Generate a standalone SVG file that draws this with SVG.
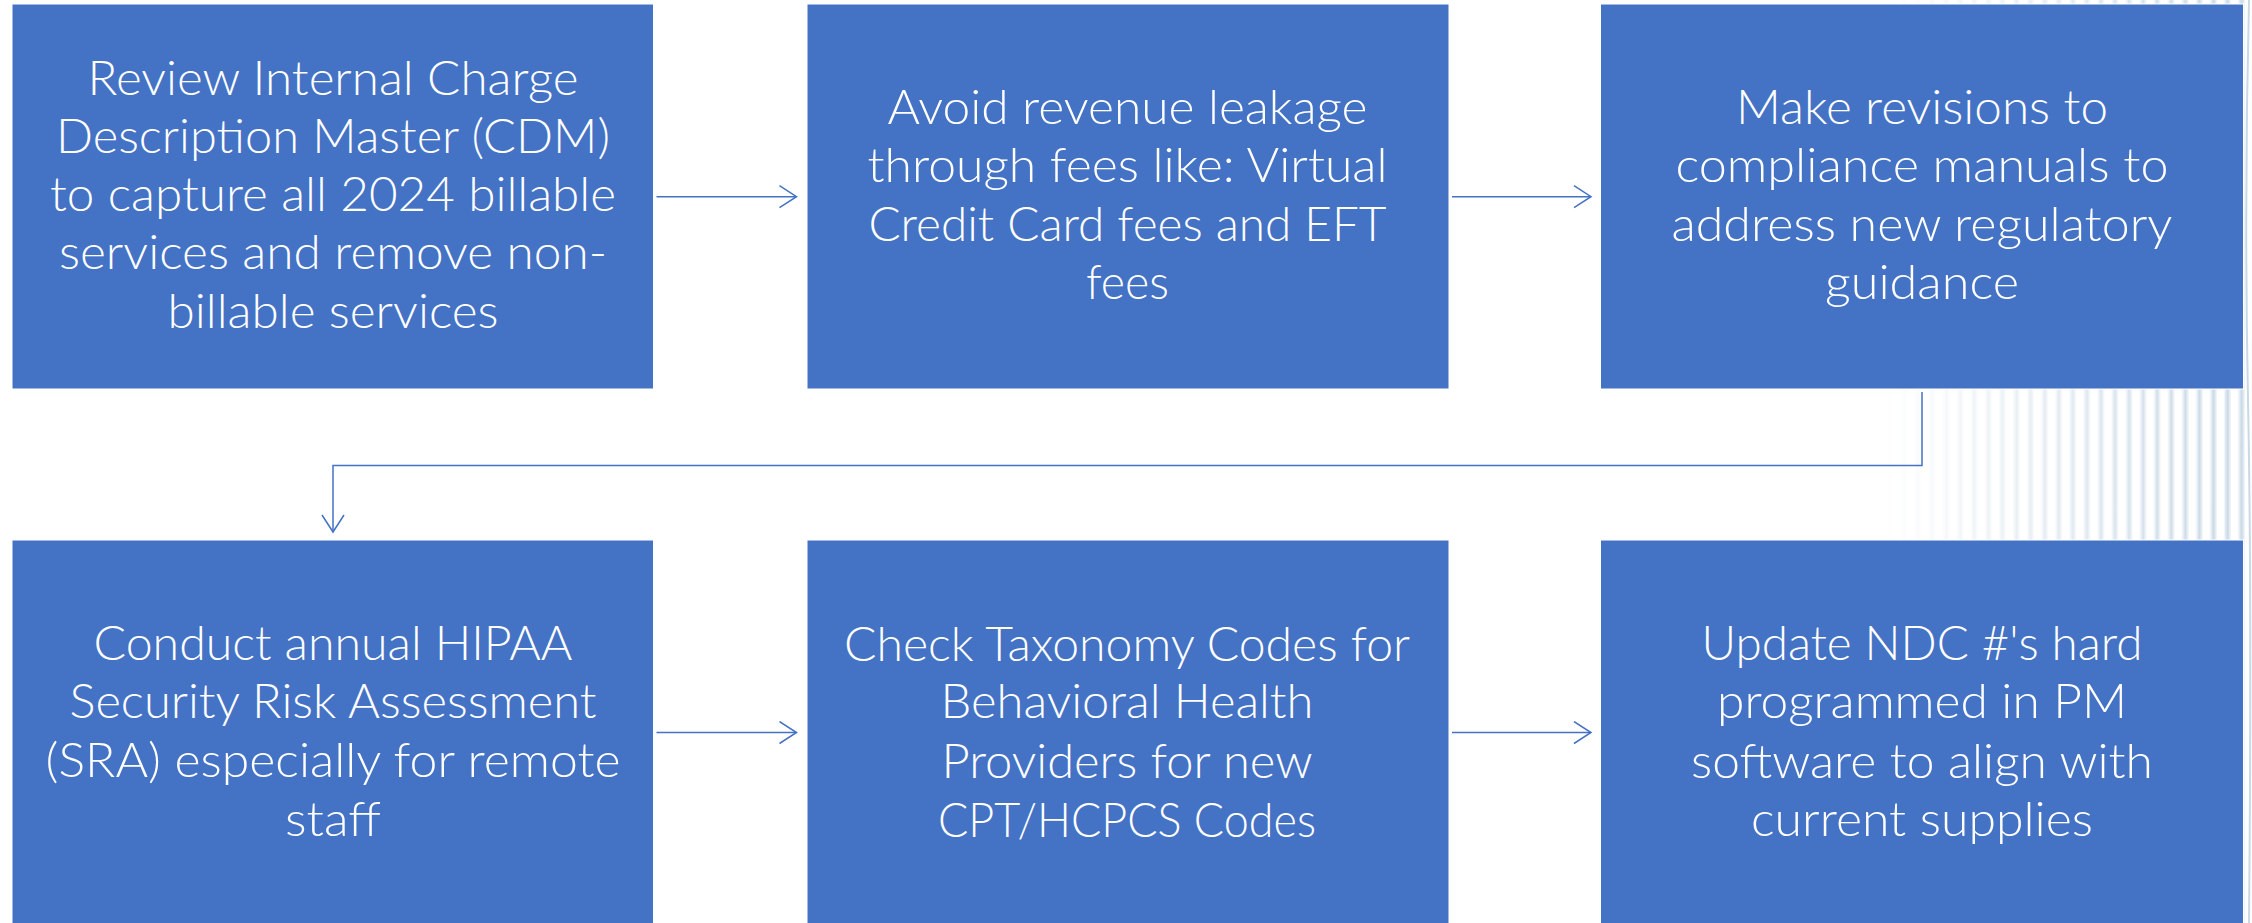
<svg xmlns="http://www.w3.org/2000/svg" width="2252" height="923" viewBox="0 0 2252 923">
  <defs>
    <style>
      .box { fill: #4472C4; stroke: #ffffff; stroke-width: 1; }
      .lbl { fill: #ffffff; font-family: Lato, "Open Sans", "Liberation Sans", sans-serif; font-weight: 300; font-size: 46.5px; text-anchor: middle; }
      .conn { fill: none; stroke: #4472C4; stroke-width: 1.5; }
    </style>
    <marker id="arr" viewBox="0 0 20 24" refX="18" refY="12" markerWidth="20" markerHeight="24" markerUnits="userSpaceOnUse" orient="auto">
      <path d="M1,1 L18,12 L1,23" fill="none" stroke="#4472C4" stroke-width="1.5"/>
    </marker>
    <linearGradient id="stripeG" x1="0" y1="0" x2="1" y2="0">
      <stop offset="0" stop-color="#c6d7e4" stop-opacity="0"/>
      <stop offset="0.5" stop-color="#c6d7e4" stop-opacity="1"/>
      <stop offset="1" stop-color="#c6d7e4" stop-opacity="0"/>
    </linearGradient>
    <pattern id="stripes" patternUnits="userSpaceOnUse" x="2111" y="0" width="14.07" height="923">
      <rect x="0" y="0" width="8" height="923" fill="url(#stripeG)"/>
    </pattern>
    <linearGradient id="fadeG" gradientUnits="userSpaceOnUse" x1="1880" y1="0" x2="2220" y2="0">
      <stop offset="0" stop-color="#fff" stop-opacity="0"/>
      <stop offset="1" stop-color="#fff" stop-opacity="1"/>
    </linearGradient>
    <mask id="fade">
      <rect x="1880" y="0" width="372" height="923" fill="url(#fadeG)"/>
    </mask>
  </defs>

  <rect x="0" y="0" width="2252" height="923" fill="#ffffff"/>

  <g id="background-stripes">
    <rect x="1880" y="0" width="372" height="923" fill="url(#stripes)" mask="url(#fade)"/>
    <path d="M2249,0 Q2244,200 2248,400 T2249,923" fill="none" stroke="#c9d9e5" stroke-width="2"/>
  </g>

  <g id="connectors">
    <line class="conn" x1="656.5" y1="196.7" x2="796.5" y2="196.7" marker-end="url(#arr)"/>
    <line class="conn" x1="1452" y1="196.7" x2="1591" y2="196.7" marker-end="url(#arr)"/>
    <polyline class="conn" points="1922,392 1922,465.5 333,465.5 333,532" marker-end="url(#arr)"/>
    <line class="conn" x1="656.5" y1="732.5" x2="796.5" y2="732.5" marker-end="url(#arr)"/>
    <line class="conn" x1="1452" y1="732.5" x2="1591" y2="732.5" marker-end="url(#arr)"/>
  </g>

  <g id="node1">
    <rect class="box" x="12" y="4" width="641.5" height="385"/>
    <text class="lbl" x="333" y="94.5" textLength="491" lengthAdjust="spacingAndGlyphs">Review Internal Charge</text>
    <text class="lbl" x="333" y="152.8" textLength="554" lengthAdjust="spacingAndGlyphs">Description Master (CDM)</text>
    <text class="lbl" x="333" y="211" textLength="566" lengthAdjust="spacingAndGlyphs">to capture all 2024 billable</text>
    <text class="lbl" x="333" y="269.3" textLength="548" lengthAdjust="spacingAndGlyphs">services and remove non-</text>
    <text class="lbl" x="333" y="327.6" textLength="331" lengthAdjust="spacingAndGlyphs">billable services</text>
  </g>

  <g id="node2">
    <rect class="box" x="807" y="4" width="642" height="385"/>
    <text class="lbl" x="1127.5" y="123.8" textLength="480" lengthAdjust="spacingAndGlyphs">Avoid revenue leakage</text>
    <text class="lbl" x="1127.5" y="182" textLength="520" lengthAdjust="spacingAndGlyphs">through fees like: Virtual</text>
    <text class="lbl" x="1127.5" y="240.8" textLength="518" lengthAdjust="spacingAndGlyphs">Credit Card fees and EFT</text>
    <text class="lbl" x="1127.5" y="299.3" textLength="83" lengthAdjust="spacingAndGlyphs">fees</text>
  </g>

  <g id="node3">
    <rect class="box" x="1600.5" y="4" width="643" height="385"/>
    <text class="lbl" x="1922" y="123.5" textLength="372" lengthAdjust="spacingAndGlyphs">Make revisions to</text>
    <text class="lbl" x="1922" y="181.9" textLength="493" lengthAdjust="spacingAndGlyphs">compliance manuals to</text>
    <text class="lbl" x="1922" y="240.5" textLength="501" lengthAdjust="spacingAndGlyphs">address new regulatory</text>
    <text class="lbl" x="1922" y="299" textLength="194" lengthAdjust="spacingAndGlyphs">guidance</text>
  </g>

  <g id="node4">
    <rect class="box" x="12" y="540" width="641.5" height="390"/>
    <text class="lbl" x="333" y="660" textLength="479" lengthAdjust="spacingAndGlyphs">Conduct annual HIPAA</text>
    <text class="lbl" x="333" y="718.3" textLength="527" lengthAdjust="spacingAndGlyphs">Security Risk Assessment</text>
    <text class="lbl" x="333" y="777.3" textLength="575" lengthAdjust="spacingAndGlyphs">(SRA) especially for remote</text>
    <text class="lbl" x="333" y="836" textLength="96" lengthAdjust="spacingAndGlyphs">staff</text>
  </g>

  <g id="node5">
    <rect class="box" x="807" y="540" width="642" height="390"/>
    <text class="lbl" x="1127" y="660.5" textLength="566" lengthAdjust="spacingAndGlyphs">Check Taxonomy Codes for</text>
    <text class="lbl" x="1127" y="718.3" textLength="373" lengthAdjust="spacingAndGlyphs">Behavioral Health</text>
    <text class="lbl" x="1127" y="777.8" textLength="371" lengthAdjust="spacingAndGlyphs">Providers for new</text>
    <text class="lbl" x="1127" y="836.5" textLength="378" lengthAdjust="spacingAndGlyphs">CPT/HCPCS Codes</text>
  </g>

  <g id="node6">
    <rect class="box" x="1600.5" y="540" width="643" height="390"/>
    <text class="lbl" x="1922" y="660" textLength="441" lengthAdjust="spacingAndGlyphs">Update NDC #'s hard</text>
    <text class="lbl" x="1922" y="718" textLength="410" lengthAdjust="spacingAndGlyphs">programmed in PM</text>
    <text class="lbl" x="1922" y="777.5" textLength="462" lengthAdjust="spacingAndGlyphs">software to align with</text>
    <text class="lbl" x="1922" y="836" textLength="342" lengthAdjust="spacingAndGlyphs">current supplies</text>
  </g>
</svg>
